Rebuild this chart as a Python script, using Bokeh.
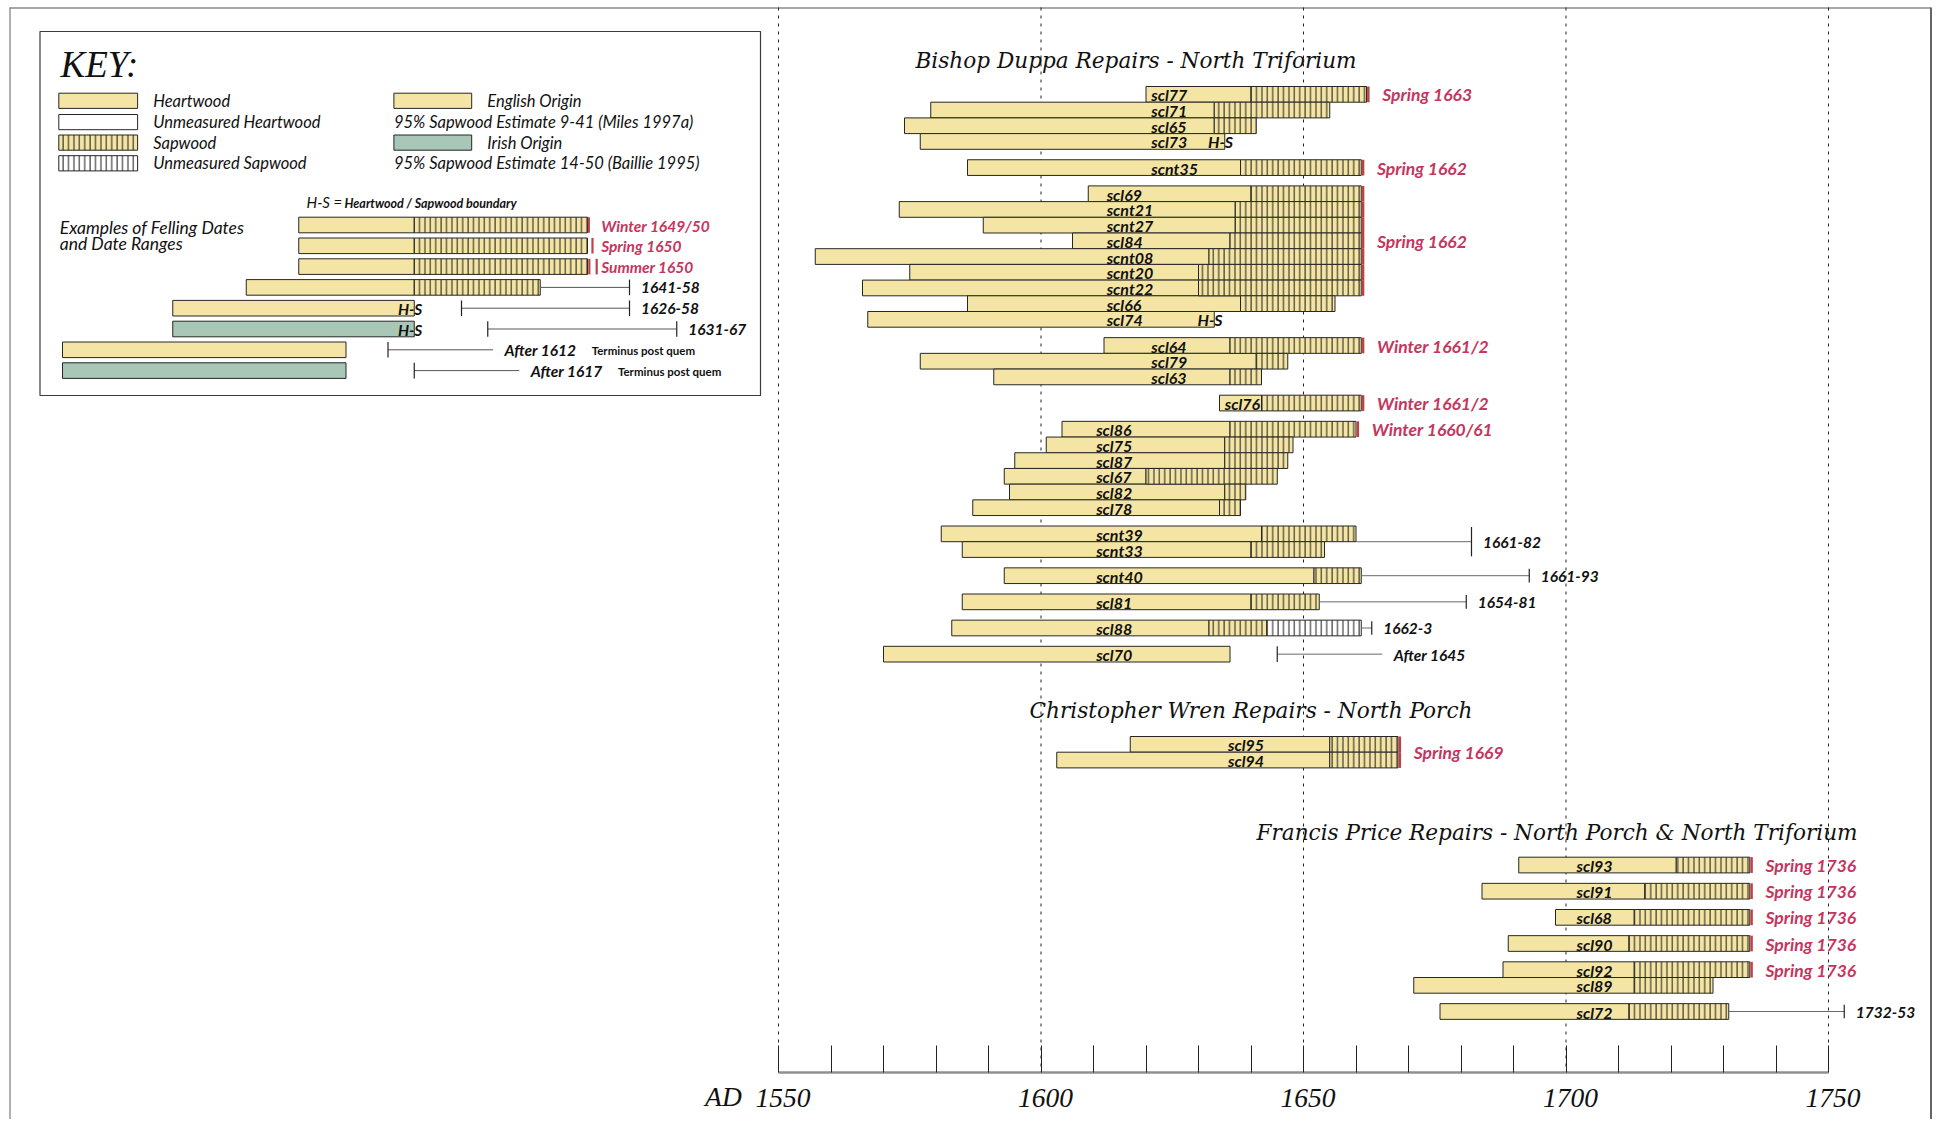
from bokeh.plotting import figure
from bokeh.models import Range1d, LinearAxis, FixedTicker, ColumnDataSource
from bokeh.core.properties import value
from bokeh.embed import file_html
from bokeh.resources import INLINE

# ======================= DATA =======================
bishop_groups = [
    ["scl77", "scl71", "scl65", "scl73"],
    ["scnt35"],
    ["scl69", "scnt21", "scnt27", "scl84", "scnt08", "scnt20", "scnt22", "scl66", "scl74"],
    ["scl64", "scl79", "scl63"],
    ["scl76"],
    ["scl86", "scl75", "scl87", "scl67", "scl82", "scl78"],
    ["scnt39", "scnt33"],
    ["scnt40"],
    ["scl81"],
    ["scl88"],
    ["scl70"],
]
wren_groups = [["scl95", "scl94"]]
price_groups = [["scl93"], ["scl91"], ["scl68"], ["scl90"], ["scl92", "scl89"], ["scl72"]]

samples = ["scl77", "scl71", "scl65", "scl73", "scnt35", "scl69", "scnt21", "scnt27", "scl84",
           "scnt08", "scnt20", "scnt22", "scl66", "scl74", "scl64", "scl79", "scl63", "scl76",
           "scl86", "scl75", "scl87", "scl67", "scl82", "scl78", "scnt39", "scnt33", "scnt40",
           "scl81", "scl88", "scl70",
           "scl95", "scl94",
           "scl93", "scl91", "scl68", "scl90", "scl92", "scl89", "scl72"]
start_year = [1620, 1579, 1574, 1577, 1586, 1609, 1573, 1589, 1606,
              1557, 1575, 1566, 1586, 1567, 1612, 1577, 1591, 1634,
              1604, 1601, 1595, 1593, 1594, 1587, 1581, 1585, 1593,
              1585, 1583, 1570,
              1617, 1603,
              1691, 1684, 1698, 1689, 1688, 1671, 1676]
hs_year = [1640, 1633, 1633, None, 1638, 1640, 1637, 1637, 1636,
           1632, 1630, 1630, 1638, None, 1636, 1641, 1636, 1642,
           1636, 1635, 1635, 1620, 1635, 1634, 1642, 1640, 1652,
           1640, 1632, None,
           1655, 1655,
           1721, 1715, 1713, 1712, 1713, 1713, 1712]
end_year = [1662, 1655, 1641, 1635, 1661, 1661, 1661, 1661, 1661,
            1661, 1661, 1661, 1656, 1633, 1661, 1647, 1642, 1661,
            1660, 1648, 1647, 1645, 1639, 1638, 1660, 1654, 1661,
            1653, 1643, 1636,
            1668, 1668,
            1735, 1735, 1735, 1735, 1735, 1728, 1731]
unmeasured_sap_end = {"scl88": 1661}
hs_boundary_rows = ["scl73", "scl74"]
felling_date = {
    "scl77": "Spring 1663", "scnt35": "Spring 1662",
    "scl69": "Spring 1662", "scnt21": "Spring 1662", "scnt27": "Spring 1662", "scl84": "Spring 1662",
    "scnt08": "Spring 1662", "scnt20": "Spring 1662", "scnt22": "Spring 1662",
    "scl64": "Winter 1661/2", "scl76": "Winter 1661/2", "scl86": "Winter 1660/61",
    "scl95": "Spring 1669", "scl94": "Spring 1669",
    "scl93": "Spring 1736", "scl91": "Spring 1736", "scl68": "Spring 1736",
    "scl90": "Spring 1736", "scl92": "Spring 1736",
}
range_text = ["1661-82", "1661-93", "1654-81", "1662-3", "After 1645", "1732-53"]
range_rows = [["scnt39", "scnt33"], ["scnt40"], ["scl81"], ["scl88"], ["scl70"], ["scl72"]]
range_lo = [1661, 1661, 1654, 1662, 1645, 1732]
range_hi = [1682, 1693, 1681, 1663, None, 1753]

axis_ticks = list(range(1550, 1751, 10))
label_years = [1550, 1600, 1650, 1700, 1750]
label_text = ["1550", "1600", "1650", "1700", "1750"]
axis_prefix = "AD"
grid_years = [1550, 1600, 1650, 1700, 1750]

# key examples
key_start = [1595, 1595, 1595, 1585, 1571, 1571, 1550, 1550]
key_hs = [1617, 1617, 1617, 1617, None, None, None, None]
key_end = [1650, 1650, 1650, 1641, 1617, 1617, 1604, 1604]
key_origin = ["English", "English", "English", "English", "English", "Irish", "English", "Irish"]
key_label = ["Winter 1649/50", "Spring 1650", "Summer 1650", "1641-58", "1626-58", "1631-67",
             "After 1612", "After 1617"]
key_lo = [None, None, None, 1641, 1626, 1631, 1612, 1617]
key_hi = [None, None, None, 1658, 1658, 1667, None, None]
key_hs_mark = [False, False, False, False, True, True, False, False]

legend_left = ["Heartwood", "Unmeasured Heartwood", "Sapwood", "Unmeasured Sapwood"]
legend_right = ["English Origin", "95% Sapwood Estimate 9-41 (Miles 1997a)",
                "Irish Origin", "95% Sapwood Estimate 14-50 (Baillie 1995)"]

# ======================= STYLE / LAYOUT =======================
HEART = "#f4e5a4"
IRISH = "#a9c7b7"
RED_TXT = "#c4365e"
RED_LINE = "#bf4048"
EDGE = "#262626"
PX_YR = 5.25
W, H = 1935, 1119
ORG = 0  # page origin of the figure
X0 = 1550 - (778 - ORG) / PX_YR
K0 = 1650 - (587 - ORG) / PX_YR
ROW_H = 15.7
GAP = 10.45
AXIS_Y = 1071.7
SECTIONS = [
    ("Bishop Duppa Repairs - North Triforium", bishop_groups, 59.5, 86.0, 915,
     [1621, 1621, 1612.5, 1621, 1635, 1610.5, 1610.5, 1610.5, 1610.5, 1610.5, 1610.5]),
    ("Christopher Wren Repairs - North Porch", wren_groups, 710.0, 736.0, 1029, [1635.6]),
    ("Francis Price Repairs - North Porch & North Triforium", price_groups, 831.5, 856.7, 1256,
     [1702] * 6),
]
LAB_FONT = value("Lato")

p = figure(width=W, height=H, x_range=Range1d(X0, X0 + W / PX_YR), y_range=Range1d(ORG + H, ORG),
           output_backend="svg", toolbar_location=None, min_border=0,
           x_axis_type=None, y_axis_type=None, outline_line_color=None,
           background_fill_color="white", border_fill_color="white")
p.extra_x_ranges = {"key": Range1d(K0, K0 + W / PX_YR), "px": Range1d(ORG, ORG + W)}

# page frame
p.segment(x0=[9.5, 9, 1930.5], y0=[7, 7.5, 7], x1=[9.5, 1930.5, 1930.5], y1=[1121, 7.5, 1121],
          line_color=["#b0b0b0", "#8a8a8a", "#666666"], line_width=[2, 1.5, 2], x_range_name="px")

# grid lines (dashed)
p.segment(x0=grid_years, x1=grid_years, y0=[7] * len(grid_years), y1=[AXIS_Y] * len(grid_years),
          line_color="#222222", line_width=1, line_dash="3 5")

# axis (line + ticks), labels drawn as text below
ax = LinearAxis(fixed_location=AXIS_Y, bounds=(1550, 1750),
                ticker=FixedTicker(ticks=axis_ticks),
                major_tick_in=27, major_tick_out=0, minor_tick_in=0, minor_tick_out=0,
                axis_line_color="#909090", axis_line_width=2.5,
                major_tick_line_color="#222222", major_tick_line_width=1,
                major_label_overrides={t: "" for t in axis_ticks},
                major_label_text_font_size="1px")
p.add_layout(ax, "below")
p.text(x=[v + 0.85 for v in label_years], y=[AXIS_Y + 16.5] * len(label_years), text=label_text,
       text_font=value("Liberation Serif"), text_font_style="italic", text_font_size="27.5px",
       text_baseline="top", text_align="center", text_color="#111111")
p.text(x=[label_years[0] - 7.0], y=[AXIS_Y + 9], text=[axis_prefix],
       text_font=value("Liberation Serif"), text_font_style="italic", text_font_size="27.5px",
       text_baseline="top", text_align="right", text_color="#111111")

# ---------- row layout ----------
row_top, label_x, group_list = {}, {}, []
for title, groups, ty, top0, tx, lx in SECTIONS:
    y = top0
    for g, lxx in zip(groups, lx):
        for n in g:
            row_top[n] = y
            label_x[n] = lxx
            y += ROW_H
        y += GAP
        group_list.append(g)
    p.text(x=[tx], y=[ty], text=[title], text_font=value("DejaVu Serif"), text_font_style="italic",
           text_font_size="21.6px", text_baseline="middle", text_align="left",
           text_color="#111111", x_range_name="px")

idx = {n: i for i, n in enumerate(samples)}

heart = dict(l=[], r=[], t=[], b=[])
sap = dict(l=[], r=[], t=[], b=[])
unm = dict(l=[], r=[], t=[], b=[])
for n in samples:
    i = idx[n]
    t, b = row_top[n], row_top[n] + ROW_H
    hs = hs_year[i]
    heart["l"].append(start_year[i]); heart["r"].append(hs if hs is not None else end_year[i])
    heart["t"].append(t); heart["b"].append(b)
    if hs is not None:
        sap["l"].append(hs); sap["r"].append(end_year[i]); sap["t"].append(t); sap["b"].append(b)
    if n in unmeasured_sap_end:
        unm["l"].append(end_year[i]); unm["r"].append(unmeasured_sap_end[n])
        unm["t"].append(t); unm["b"].append(b)

p.quad(left="l", right="r", top="t", bottom="b", source=ColumnDataSource(heart),
       fill_color=HEART, line_color=EDGE, line_width=1)
p.quad(left="l", right="r", top="t", bottom="b", source=ColumnDataSource(sap),
       fill_color=HEART, line_color=EDGE, line_width=1,
       hatch_pattern="vertical_line", hatch_scale=5.4, hatch_color="#1a1a1a", hatch_weight=1)
p.quad(left="l", right="r", top="t", bottom="b", source=ColumnDataSource(unm),
       fill_color="white", line_color=EDGE, line_width=1,
       hatch_pattern="vertical_line", hatch_scale=5.4, hatch_color="#1a1a1a", hatch_weight=1)

# sample labels
p.text(x=[label_x[n] for n in samples], y=[row_top[n] + ROW_H / 2 + 0.5 for n in samples],
       text=samples, text_font=LAB_FONT, text_font_style="bold italic", text_font_size="16px",
       text_baseline="middle", text_align="left", text_color="#111111")

# H-S boundary marks
p.text(x=[end_year[idx[n]] - 0.8 for n in hs_boundary_rows],
       y=[row_top[n] + ROW_H / 2 + 0.5 for n in hs_boundary_rows], text=["H-S"] * len(hs_boundary_rows),
       text_font=LAB_FONT, text_font_style="bold italic", text_font_size="16px",
       text_baseline="middle", text_align="center", text_color="#111111")

# felling-date red edges and labels
fx, fy0, fy1 = [], [], []
for n, lab in felling_date.items():
    e = end_year[idx[n]]
    fx.append(e + 0.35); fy0.append(row_top[n]); fy1.append(row_top[n] + ROW_H)
p.segment(x0=fx, x1=fx, y0=fy0, y1=fy1, line_color=RED_LINE, line_width=2.5)

flx, fly, flt = [], [], []
for g in group_list:
    run = []
    for n in g + [None]:
        lab = felling_date.get(n, "") if n else ""
        if run and (lab != felling_date[run[0]]):
            ys = (row_top[run[0]] + row_top[run[-1]] + ROW_H) / 2
            flx.append(max(end_year[idx[m]] for m in run) + 3.0)
            fly.append(ys + 0.5); flt.append(felling_date[run[0]])
            run = []
        if lab:
            run.append(n)
p.text(x=flx, y=fly, text=flt, text_font=LAB_FONT, text_font_style="bold italic",
       text_font_size="17.5px", text_baseline="middle", text_align="left", text_color=RED_TXT)

# date ranges
rl = dict(x0=[], x1=[], y=[])
rt = dict(x=[], y0=[], y1=[])
rlab = dict(x=[], y=[], t=[])
for txt, rows, lo, hi in zip(range_text, range_rows, range_lo, range_hi):
    bar_end = max(unmeasured_sap_end.get(n, end_year[idx[n]]) for n in rows)
    top = row_top[rows[0]]; bot = row_top[rows[-1]] + ROW_H
    yc = (top + bot) / 2
    h = ROW_H
    if lo - bar_end > 2:
        x_start = lo
        rt["x"].append(lo); rt["y0"].append(yc - h / 2); rt["y1"].append(yc + h / 2)
    else:
        x_start = bar_end
    x_end = hi if hi is not None else lo + 20
    if hi is not None:
        rt["x"].append(hi); rt["y0"].append(top + 1); rt["y1"].append(bot - 1)
    rl["x0"].append(x_start); rl["x1"].append(x_end); rl["y"].append(yc)
    rlab["x"].append(x_end + 2.2); rlab["y"].append(yc + 0.5); rlab["t"].append(txt)
p.segment(x0=rl["x0"], x1=rl["x1"], y0=rl["y"], y1=rl["y"], line_color="#6a6a6a", line_width=1)
p.segment(x0=rt["x"], x1=rt["x"], y0=rt["y0"], y1=rt["y1"], line_color="#222222", line_width=1.2)
p.text(x=rlab["x"], y=rlab["y"], text=rlab["t"], text_font=LAB_FONT, text_font_style="bold italic",
       text_font_size="15.5px", text_baseline="middle", text_align="left", text_color="#111111")

# ======================= KEY =======================
p.quad(left=[39.5], right=[760], top=[31], bottom=[395], fill_color=None,
       line_color="#3a3a3a", line_width=1.2, x_range_name="px")
p.text(x=[60], y=[64], text=["KEY:"], text_font=value("Liberation Serif"), text_font_style="italic",
       text_font_size="37px", text_baseline="middle", text_align="left", text_color="#111111",
       x_range_name="px")

sw_y = [92.7, 114.0, 134.5, 155.2]
sw_h = 15.2
sw_fill = [HEART, "white", HEART, "white"]
sw_hatch = [" ", " ", "vertical_line", "vertical_line"]
for yy, fc, ht in zip(sw_y, sw_fill, sw_hatch):
    p.quad(left=[58.3], right=[137.1], top=[yy], bottom=[yy + sw_h], fill_color=fc,
           line_color=EDGE, line_width=1, hatch_pattern=ht, hatch_scale=5.4,
           hatch_color="#1a1a1a", hatch_weight=1, x_range_name="px")
p.quad(left=[393.4, 393.4], right=[471.2, 471.2], top=[sw_y[0], sw_y[2]],
       bottom=[sw_y[0] + sw_h, sw_y[2] + sw_h], fill_color=[HEART, IRISH], line_color=EDGE,
       line_width=1, x_range_name="px")
p.text(x=[152.7] * 4, y=[v + sw_h / 2 for v in sw_y], text=legend_left, text_font=LAB_FONT,
       text_font_style="italic", text_font_size="16.5px", text_baseline="middle", text_align="left",
       text_color="#111111", x_range_name="px")
p.text(x=[486.8, 393.4, 486.8, 393.4], y=[v + sw_h / 2 for v in sw_y], text=legend_right,
       text_font=LAB_FONT, text_font_style="italic", text_font_size="16.5px", text_baseline="middle",
       text_align="left", text_color="#111111", x_range_name="px")

p.text(x=[306], y=[201.5], text=["H-S ="], text_font=LAB_FONT, text_font_style="italic",
       text_font_size="15px", text_baseline="middle", text_align="left", text_color="#111111",
       x_range_name="px")
p.text(x=[344], y=[202.5], text=["Heartwood / Sapwood boundary"], text_font=LAB_FONT,
       text_font_style="bold italic", text_font_size="12.5px", text_baseline="middle",
       text_align="left", text_color="#111111", x_range_name="px")
p.text(x=[59.3, 59.3], y=[226.7, 243.3], text=["Examples of Felling Dates", "and Date Ranges"],
       text_font=LAB_FONT, text_font_style="italic", text_font_size="17.5px",
       text_baseline="middle", text_align="left", text_color="#111111", x_range_name="px")

KEY_TOP0, KEY_STEP, KEY_H = 216.7, 20.8, 15.6
kh = dict(l=[], r=[], t=[], b=[], c=[])
ks = dict(l=[], r=[], t=[], b=[])
for i in range(len(key_start)):
    t = KEY_TOP0 + i * KEY_STEP
    hs = key_hs[i]
    kh["l"].append(key_start[i]); kh["r"].append(hs if hs is not None else key_end[i])
    kh["t"].append(t); kh["b"].append(t + KEY_H)
    kh["c"].append(HEART if key_origin[i] == "English" else IRISH)
    if hs is not None:
        ks["l"].append(hs); ks["r"].append(key_end[i]); ks["t"].append(t); ks["b"].append(t + KEY_H)
p.quad(left="l", right="r", top="t", bottom="b", fill_color="c", source=ColumnDataSource(kh),
       line_color=EDGE, line_width=1, x_range_name="key")
p.quad(left="l", right="r", top="t", bottom="b", source=ColumnDataSource(ks), fill_color=HEART,
       line_color=EDGE, line_width=1, hatch_pattern="vertical_line", hatch_scale=5.4,
       hatch_color="#1a1a1a", hatch_weight=1, x_range_name="key")

season_offsets = {"Winter": [0.25], "Spring": [0.95], "Summer": [0.35, 1.75]}
krx, kry0, kry1 = [], [], []
klab = dict(x=[], y=[], t=[], c=[])
kl = dict(x0=[], x1=[], y=[])
kt = dict(x=[], y0=[], y1=[])
term = dict(x=[], y=[])
hsk = dict(x=[], y=[])
for i in range(len(key_start)):
    t = KEY_TOP0 + i * KEY_STEP
    yc = t + KEY_H / 2
    word = key_label[i].split()[0]
    if word in season_offsets:
        for off in season_offsets[word]:
            krx.append(key_end[i] + off); kry0.append(t); kry1.append(t + KEY_H)
        klab["x"].append(key_end[i] + 2.6); klab["y"].append(yc + 0.5)
        klab["t"].append(key_label[i]); klab["c"].append(RED_TXT)
        continue
    lo, hi = key_lo[i], key_hi[i]
    if lo - key_end[i] > 2:
        x_start = lo
        kt["x"].append(lo); kt["y0"].append(t); kt["y1"].append(t + KEY_H)
    else:
        x_start = key_end[i]
    x_end = hi if hi is not None else lo + 20
    if hi is not None:
        kt["x"].append(hi); kt["y0"].append(t); kt["y1"].append(t + KEY_H)
    kl["x0"].append(x_start); kl["x1"].append(x_end); kl["y"].append(yc)
    klab["x"].append(x_end + 2.2); klab["y"].append(yc + 0.5)
    klab["t"].append(key_label[i]); klab["c"].append("#111111")
    if hi is None:
        term["x"].append(x_end + 18.8); term["y"].append(yc + 0.5)
    if key_hs_mark[i]:
        hsk["x"].append(key_end[i] - 0.8); hsk["y"].append(yc + 0.5)
p.segment(x0=krx, x1=krx, y0=kry0, y1=kry1, line_color=RED_LINE, line_width=2.2, x_range_name="key")
p.segment(x0=kl["x0"], x1=kl["x1"], y0=kl["y"], y1=kl["y"], line_color="#555555", line_width=1,
          x_range_name="key")
p.segment(x0=kt["x"], x1=kt["x"], y0=kt["y0"], y1=kt["y1"], line_color="#222222", line_width=1.2,
          x_range_name="key")
p.text(x="x", y="y", text="t", text_color="c", source=ColumnDataSource(klab), text_font=LAB_FONT,
       text_font_style="bold italic", text_font_size="15.5px", text_baseline="middle",
       text_align="left", x_range_name="key")
p.text(x=term["x"], y=term["y"], text=["Terminus post quem"] * len(term["x"]), text_font=LAB_FONT,
       text_font_style="bold", text_font_size="11.5px", text_baseline="middle", text_align="left",
       text_color="#111111", x_range_name="key")
p.text(x=hsk["x"], y=hsk["y"], text=["H-S"] * len(hsk["x"]), text_font=LAB_FONT,
       text_font_style="bold italic", text_font_size="15.5px", text_baseline="middle",
       text_align="center", text_color="#111111", x_range_name="key")

open("out.html", "w").write(file_html(p, INLINE))
